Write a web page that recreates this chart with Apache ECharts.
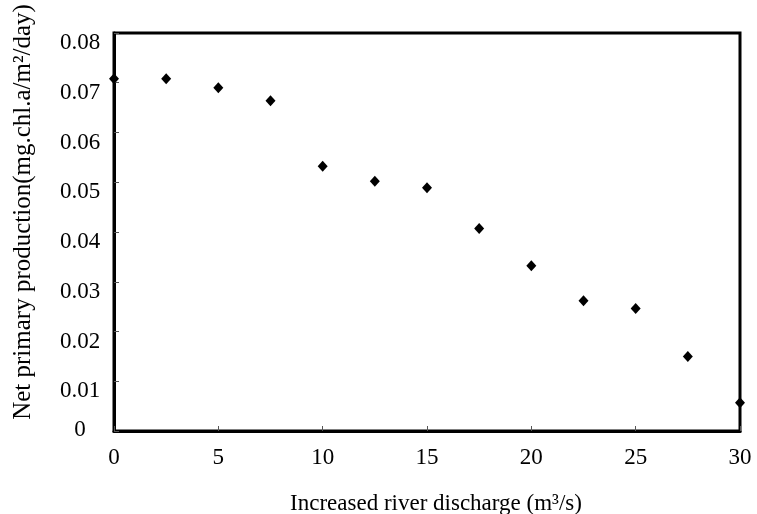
<!DOCTYPE html>
<html>
<head>
<meta charset="utf-8">
<script src="https://cdn.jsdelivr.net/npm/echarts@6/dist/echarts.min.js"></script>
<style>
html,body{margin:0;padding:0;background:#fff;}
#chart{width:757px;height:514px;}
</style>
</head>
<body>
<div id="chart"></div>
<script>
var discharge = [0, 2.5, 5, 7.5, 10, 12.5, 15, 17.5, 20, 22.5, 25, 27.5, 30];
var production = [0.0708, 0.0708, 0.0690, 0.0664, 0.0532, 0.0502, 0.0489, 0.0407, 0.0332, 0.0262, 0.0246, 0.0150, 0.0057];
var xTitle = 'Increased river discharge (m³/s)';
var yTitle = 'Net primary production(mg.chl.a/m²/day)';

var font = "'Liberation Serif', 'Times New Roman', serif";
var pts = discharge.map(function (x, i) { return [x, production[i]]; });

var chart = echarts.init(document.getElementById('chart'));
chart.setOption({
  animation: false,
  backgroundColor: '#fff',
  grid: {
    left: 114, right: 17, top: 33, bottom: 83,
    outerBoundsMode: 'none',
    containLabel: false,
    show: true, borderColor: '#000', borderWidth: 3, backgroundColor: 'transparent'
  },
  xAxis: {
    type: 'value', min: 0, max: 30, interval: 5,
    name: xTitle, nameLocation: 'middle', nameGap: 61,
    nameTextStyle: { fontFamily: font, fontSize: 23, color: '#000', padding: [0, 0, 0, 18] },
    axisLine: { show: true, lineStyle: { color: '#000', width: 3 } },
    axisTick: { show: true, inside: true, length: 5, lineStyle: { color: '#555', width: 1 } },
    axisLabel: { fontFamily: font, fontSize: 23, color: '#000', margin: 15 },
    splitLine: { show: false }
  },
  yAxis: {
    type: 'value', min: 0, max: 0.08, interval: 0.01,
    name: yTitle, nameLocation: 'middle', nameGap: 78,
    nameTextStyle: { fontFamily: font, fontSize: 25, color: '#000', padding: [0, 0, 0, 40] },
    axisLine: { show: true, lineStyle: { color: '#000', width: 3 } },
    axisTick: { show: true, inside: true, length: 5, lineStyle: { color: '#555', width: 1 } },
    axisLabel: {
      fontFamily: font, fontSize: 23, color: '#000', margin: 34, align: 'center',
      formatter: function (v) {
        return v === 0 ? '{z|0}' : '{a|' + v.toFixed(2) + '}';
      },
      rich: {
        a: { fontFamily: font, fontSize: 23, color: '#000', padding: [20, 0, 0, 0] },
        z: { fontFamily: font, fontSize: 23, color: '#000', padding: [0, 0, 3, 0] }
      }
    },
    splitLine: { show: false }
  },
  series: [{
    type: 'scatter',
    data: pts,
    symbol: 'diamond',
    symbolSize: [10, 11],
    clip: false,
    itemStyle: { color: '#000', opacity: 1 },
    z: 10
  }]
});
</script>
</body>
</html>
